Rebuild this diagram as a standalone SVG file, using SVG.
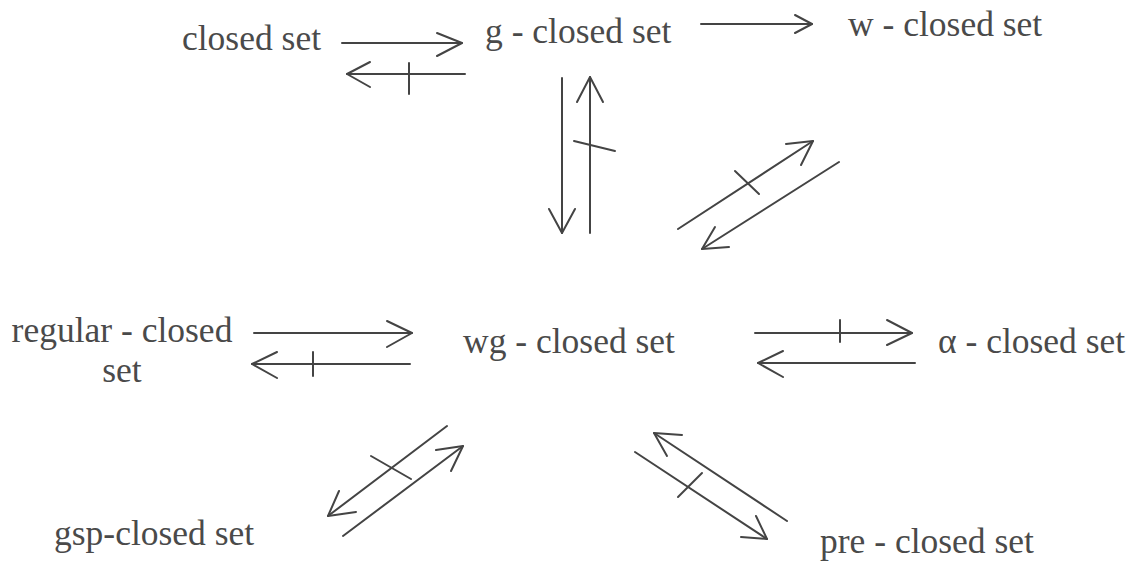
<svg xmlns="http://www.w3.org/2000/svg" width="1132" height="566" viewBox="0 0 1132 566">
<style>
text{font-family:"Liberation Serif","Times New Roman",serif;font-size:35.5px;fill:#4a4a4a}
.c line,.c polyline{stroke:#444;stroke-width:2;fill:none;stroke-linecap:round;stroke-linejoin:round}
</style>
<rect width="1132" height="566" fill="#fff"/>
<g id="n-closed"><text x="182" y="50">closed set</text></g>
<g id="n-g"><text x="485" y="43">g - closed set</text></g>
<g id="n-w"><text x="848" y="36">w - closed set</text></g>
<g id="n-regular"><text x="122" y="342" text-anchor="middle">regular - closed</text><text x="122" y="382" text-anchor="middle">set</text></g>
<g id="n-wg"><text x="463" y="353">wg - closed set</text></g>
<g id="n-alpha"><text x="938" y="353">α - closed set</text></g>
<g id="n-gsp"><text x="54" y="545">gsp-closed set</text></g>
<g id="n-pre"><text x="820" y="553">pre - closed set</text></g>
<g id="connectors" class="c">
<line x1="342" y1="43" x2="462" y2="43"/><polyline points="437,33 462,43 437,56"/>
<line x1="465" y1="74" x2="347" y2="74"/><polyline points="370,62 347,74 370,87"/><line x1="409" y1="63" x2="409" y2="94"/>
<line x1="701" y1="24" x2="812" y2="24"/><polyline points="795,15 812,24 795,33"/>
<line x1="562" y1="78" x2="562" y2="233"/><polyline points="549,209 562,233 575,209"/>
<line x1="590" y1="233" x2="590" y2="77"/><polyline points="577,102 590,77 603,102"/><line x1="574" y1="141" x2="615" y2="151"/>
<line x1="678" y1="229" x2="813" y2="141"/><polyline points="786,144 813,141 801,165"/><line x1="735" y1="171" x2="759" y2="194"/>
<line x1="839" y1="162" x2="702" y2="249"/><polyline points="729,247 702,249 715,227"/>
<line x1="254" y1="333" x2="412" y2="333"/><polyline points="387,321 412,333 387,347"/>
<line x1="410" y1="364" x2="252" y2="364"/><polyline points="277,352 252,364 277,378"/><line x1="313" y1="352" x2="313" y2="376"/>
<line x1="755" y1="333" x2="912" y2="333"/><polyline points="887,320 912,333 887,345"/><line x1="840" y1="320" x2="840" y2="342"/>
<line x1="915" y1="363" x2="758" y2="363"/><polyline points="783,351 758,363 783,377"/>
<line x1="447" y1="426" x2="328" y2="516"/><polyline points="339,491 328,516 356,512"/><line x1="371" y1="456" x2="411" y2="479"/>
<line x1="343" y1="536" x2="463" y2="446"/><polyline points="436,450 463,446 451,471"/>
<line x1="787" y1="521" x2="654" y2="433"/><polyline points="682,435 654,433 667,456"/>
<line x1="635" y1="452" x2="767" y2="539"/><polyline points="741,537 767,539 756,516"/><line x1="702" y1="473" x2="678" y2="497"/>
</g>
</svg>
